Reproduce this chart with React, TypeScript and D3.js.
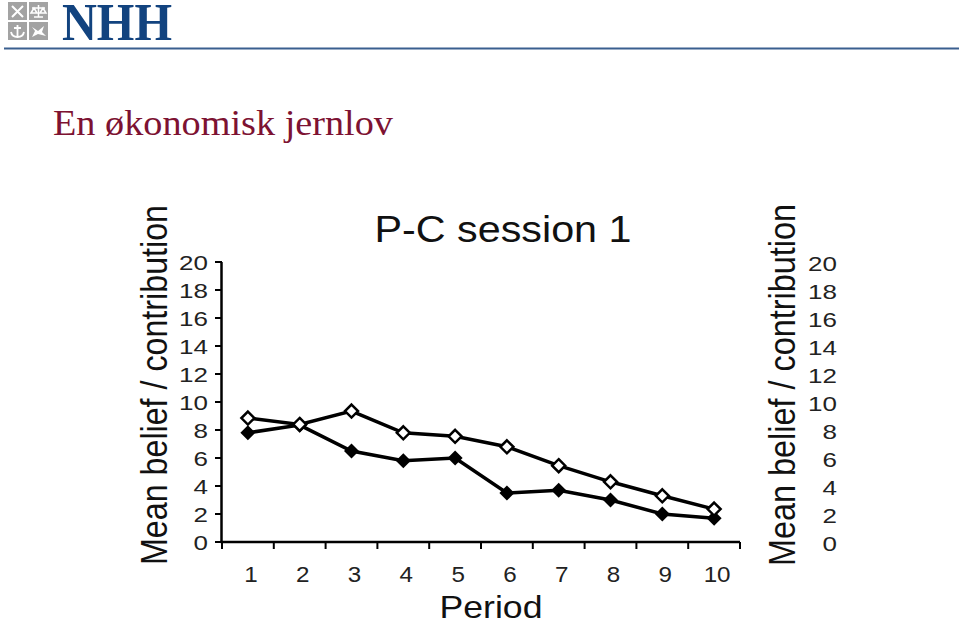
import React from "react";
import * as d3 from "d3";

const periods = [1, 2, 3, 4, 5, 6, 7, 8, 9, 10];
const beliefOpen = [8.85, 8.4, 9.35, 7.8, 7.55, 6.8, 5.45, 4.3, 3.3, 2.35];
const contribFilled = [7.8, 8.35, 6.5, 5.8, 6.0, 3.5, 3.7, 3.0, 2.0, 1.7];
const yTicks = [0, 2, 4, 6, 8, 10, 12, 14, 16, 18, 20];
const chartTitle = "P-C session 1";
const xTitle = "Period";
const yTitle = "Mean belief / contribution";
const pageTitle = "En økonomisk jernlov";

const W = 959;
const H = 636;
const sans = "Arial, 'Liberation Sans', Helvetica, sans-serif";
const serif = "'Times New Roman', 'Liberation Serif', serif";

export default function App() {
  const x = d3.scaleBand<number>().domain(periods).range([222, 740]).padding(0);
  const y = d3.scaleLinear().domain([0, 20]).range([542, 262]);
  const cx = (p: number) => (x(p) as number) + x.bandwidth() / 2;

  const line = d3
    .line<number>()
    .x((_, i) => cx(periods[i]))
    .y((d) => y(d));

  const diamond = (px: number, py: number, r: number) =>
    `M${px},${py - r}L${px + r},${py}L${px},${py + r}L${px - r},${py}Z`;

  const boundaries = [...periods.map((p) => x(p) as number), 740];

  return (
    <svg
      width={W}
      height={H}
      style={{ position: "absolute", left: 0, top: 0, background: "#fff" }}
    >
      <rect width={W} height={H} fill="#fff" />
      {/* Header logo */}
      <g>
        <rect x={8} y={2} width={19} height={18} fill="#a3a3a3" />
        <rect x={29} y={2} width={19} height={18} fill="#a3a3a3" />
        <rect x={8} y={22} width={19} height={18} fill="#a3a3a3" />
        <rect x={29} y={22} width={19} height={18} fill="#a3a3a3" />
        <path d="M12,6L23,17M23,6L12,17" stroke="#fff" strokeWidth={2} />
        <path d="M38.5,5L38.5,17M32,8L45,8M31,13L34,8L37,13ZM40,13L43,8L46,13ZM34,17L43,17" stroke="#fff" strokeWidth={1.5} fill="none" />
        <path d="M17.5,25L17.5,37M14,28L21,28M11,32Q12,37 17.5,37Q23,37 24,32" stroke="#fff" strokeWidth={1.8} fill="none" />
        <path d="M32,27L38,31L44,26L42,32L46,36L38,34L32,37L35,31Z" fill="#fff" />
      </g>
      <text
        x={62}
        y={40}
        fontFamily={serif}
        fontWeight="bold"
        fontSize={53}
        fill="#12437f"
        textLength={110}
        lengthAdjust="spacingAndGlyphs"
      >
        NHH
      </text>
      <line x1={4} x2={959} y1={48.5} y2={48.5} stroke="#3a5f8f" strokeWidth={2} />
      <text
        x={53}
        y={135}
        fontFamily={serif}
        fontSize={35}
        fill="#7d1232"
        textLength={340}
        lengthAdjust="spacingAndGlyphs"
      >
        {pageTitle}
      </text>

      <text
        x={503}
        y={242}
        textAnchor="middle"
        fontFamily={sans}
        fontSize={37}
        fill="#111"
        textLength={257}
        lengthAdjust="spacingAndGlyphs"
      >
        {chartTitle}
      </text>

      <line x1={221.5} x2={221.5} y1={y(20)} y2={y(0) + 1} stroke="#000" strokeWidth={2.5} />
      {yTicks.map((t) => (
        <g key={"l" + t}>
          <line x1={215} x2={222} y1={y(t)} y2={y(t)} stroke="#000" strokeWidth={2} />
          <text
            transform={`translate(208,${y(t) + 7.5}) scale(1.3,1)`}
            textAnchor="end"
            fontFamily={sans}
            fontSize={20}
            fill="#222"
          >
            {t}
          </text>
          <text
            transform={`translate(837,${y(t) + 8.5}) scale(1.3,1)`}
            textAnchor="end"
            fontFamily={sans}
            fontSize={20}
            fill="#222"
          >
            {t}
          </text>
        </g>
      ))}

      <line x1={220.5} x2={740} y1={y(0)} y2={y(0)} stroke="#000" strokeWidth={2.5} />
      {boundaries.map((b, i) => (
        <line key={"xt" + i} x1={b} x2={b} y1={y(0)} y2={y(0) + 7} stroke="#000" strokeWidth={2} />
      ))}
      {periods.map((p) => (
        <text
          key={"xl" + p}
          transform={`translate(${cx(p) + 3},582) scale(1.1,1)`}
          textAnchor="middle"
          fontFamily={sans}
          fontSize={22}
          fill="#222"
        >
          {p}
        </text>
      ))}
      <text
        x={491}
        y={618}
        textAnchor="middle"
        fontFamily={sans}
        fontSize={32}
        fill="#111"
        textLength={103}
        lengthAdjust="spacingAndGlyphs"
      >
        {xTitle}
      </text>

      <text
        transform="translate(167,565) rotate(-90)"
        fontFamily={sans}
        fontSize={37}
        fill="#111"
        textLength={360}
        lengthAdjust="spacingAndGlyphs"
      >
        {yTitle}
      </text>
      <text
        transform="translate(795,566) rotate(-90)"
        fontFamily={sans}
        fontSize={37}
        fill="#111"
        textLength={362}
        lengthAdjust="spacingAndGlyphs"
      >
        {yTitle}
      </text>

      <path d={line(contribFilled) ?? ""} fill="none" stroke="#000" strokeWidth={3.5} />
      <path d={line(beliefOpen) ?? ""} fill="none" stroke="#000" strokeWidth={3.5} />
      {contribFilled.map((v, i) => (
        <path key={"f" + i} d={diamond(cx(periods[i]), y(v), 7.5)} fill="#000" />
      ))}
      {beliefOpen.map((v, i) => (
        <path
          key={"o" + i}
          d={diamond(cx(periods[i]), y(v), 6.5)}
          fill="#fff"
          stroke="#000"
          strokeWidth={2.5}
        />
      ))}
    </svg>
  );
}
